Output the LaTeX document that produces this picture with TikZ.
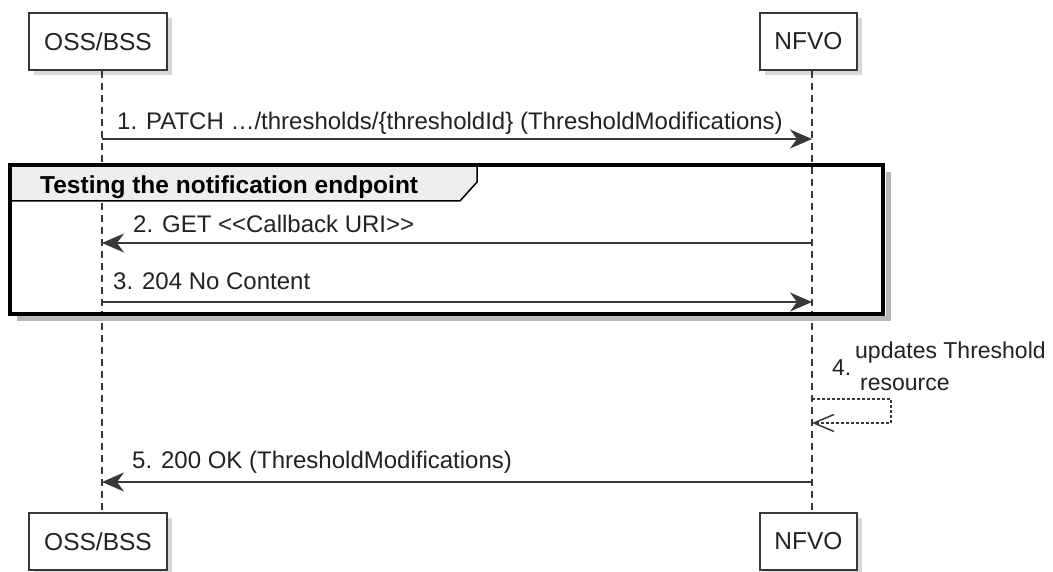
\documentclass[tikz,border=0pt]{standalone}
\usepackage{fontspec}
\setmainfont{Liberation Sans}
\usetikzlibrary{arrows.meta, shadows, calc}
\definecolor{umlline}{HTML}{383838}
\definecolor{grouphead}{HTML}{EEEEEE}
\definecolor{umltext}{HTML}{222222}

\tikzset{
  actor/.style={draw=umlline, line width=2.2pt, fill=white, minimum height=57pt, inner sep=0pt,
    font=\fontsize{24.5}{28}\selectfont, text=umltext,
    drop shadow={shadow xshift=5pt, shadow yshift=-5pt, fill=black!30}},
  lifeline/.style={draw=umlline, line width=1.3pt, dash pattern=on 7pt off 5pt},
  msg/.style={draw=umlline, line width=1.8pt, -{Stealth[length=22pt,width=19pt,inset=7pt]}},
  selfmsg/.style={draw=umlline, line width=1.3pt, dash pattern=on 3pt off 2pt, -{Straight Barb[length=20pt,width=17pt,line width=1.5pt]}},
  msglabel/.style={anchor=base west, inner sep=0pt, font=\fontsize{24}{28}\selectfont, text=umltext},
}

\begin{document}
\begin{tikzpicture}[x=1pt, y=-1pt]
  \useasboundingbox[fill=white] (0,0) rectangle (1053,572);

  % Participants
  \node[actor, minimum width=138pt] (oss) at (98,41.5) {OSS/BSS};
  \node[actor, minimum width=97pt] (nfvo) at (808.5,41.5) {NFVO};
  \node[actor, minimum width=138pt] (ossbot) at (98,541.5) {OSS/BSS};
  \node[actor, minimum width=97pt] (nfvobot) at (808.5,541.5) {NFVO};

  % Lifelines
  \draw[lifeline] ([xshift=4pt]oss.south) -- ([xshift=4pt]ossbot.north);
  \draw[lifeline] ([xshift=3.5pt]nfvo.south) -- ([xshift=3.5pt]nfvobot.north);
  \coordinate (ossx) at ([xshift=4pt]oss.south);
  \coordinate (nfvox) at ([xshift=3.5pt]nfvo.south);

  % 1
  \coordinate (m1a) at (ossx |- 0,139);
  \coordinate (m1b) at (nfvox |- 0,139);
  \draw[msg] (m1a) -- (m1b);
  \node[msglabel] (l1) at (117,130) {1. PATCH …/thresholds/\{thresholdId\} (ThresholdModifications)};

  % Group
  \draw[line width=5pt, draw=black!28] (888,172) -- (888,319) -- (17,319);
  \filldraw[fill=grouphead, draw=black, line width=1.5pt]
    (10,165) -- (477,165) -- (477,182) -- (460,201) -- (10,201) -- cycle;
  \draw[line width=3.5pt, draw=black] (10,165) rectangle (883,314);
  \node[anchor=base west, inner sep=0pt, font=\fontsize{24.5}{28}\selectfont\bfseries] (gtitle) at (40,194)
    {Testing the notification endpoint};

  % 2
  \coordinate (m2a) at (nfvox |- 0,243);
  \coordinate (m2b) at (ossx |- 0,243);
  \draw[msg] (m2a) -- (m2b);
  \node[msglabel] (l2) at (133,233) {2. GET <{}<Callback URI>{}>};

  % 3
  \coordinate (m3a) at (ossx |- 0,302);
  \coordinate (m3b) at (nfvox |- 0,302);
  \draw[msg] (m3a) -- (m3b);
  \node[msglabel] (l3) at (113,290) {3. 204 No Content};

  % 4
  \coordinate (m4a) at (nfvox |- 0,399);
  \coordinate (m4b) at (nfvox |- 0,423);
  \draw[selfmsg] (m4a) -- (891,399) -- (891,423) -- (m4b);
  \node[msglabel, font=\fontsize{23}{28}\selectfont] (l4n) at (832,375) {4.};
  \node[msglabel, font=\fontsize{23}{28}\selectfont] (l4a) at (855,358) {updates Threshold};
  \node[msglabel, font=\fontsize{23}{28}\selectfont] (l4b) at (860,390) {resource};

  % 5
  \coordinate (m5a) at (nfvox |- 0,482);
  \coordinate (m5b) at (ossx |- 0,482);
  \draw[msg] (m5a) -- (m5b);
  \node[msglabel] (l5) at (132,468) {5. 200 OK (ThresholdModifications)};
\end{tikzpicture}
\end{document}
